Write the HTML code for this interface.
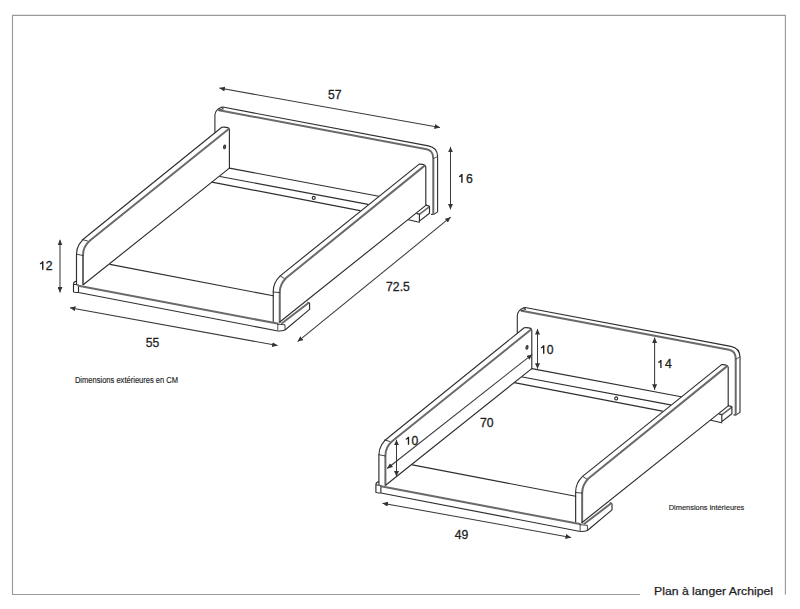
<!DOCTYPE html>
<html><head><meta charset="utf-8">
<style>
html,body{margin:0;padding:0;background:#fff;}
body{width:800px;height:609px;overflow:hidden;position:relative;}
svg{position:absolute;left:0;top:0;}
text{font-family:"Liberation Sans",sans-serif;fill:#1e1e1e;}
</style></head><body>
<svg width="800" height="609" viewBox="0 0 800 609">
<defs>
<marker id="ah" viewBox="0 0 10 10" refX="10" refY="5" markerWidth="5.5" markerHeight="5" preserveAspectRatio="none" orient="auto-start-reverse" markerUnits="userSpaceOnUse">
<path d="M0,0 L10,5 L0,10 z" fill="#333"/>
</marker>
<g id="table" fill="none" stroke="#2e2e2e" stroke-width="1.15" stroke-linejoin="round" stroke-linecap="round">
<!-- back panel -->
<path d="M214.9,132.5 V115 Q215.3,109.5 221.2,107.4 Q222.5,107 224,107.3 L428.4,145.9 Q437.6,147.7 437.6,156.7 V211.9 L433.75,214.4 L431.5,214.4" stroke-width="1.1"/>
<path d="M219,110.2 L426.7,149.2 Q433.3,150.4 433.3,158.4 V214" stroke="#6a6a6a" stroke-width="2"/>
<path d="M433.3,158.6 L437.6,156.5 M221.2,107.5 L223.6,108.8 L219,110.2" stroke-width="0.8"/>
<!-- left rail -->
<path d="M76.5,284 V254.2 Q76.5,243.5 87.5,235.75 L221.8,127.3 Q225.5,126.9 227.7,127.6 Q229.4,128.2 229.4,129.8 V168.1"/>
<path d="M83,284.5 V255.2 Q83,246.5 90,240.5 L228.4,129.2" stroke="#6a6a6a" stroke-width="2"/>
<path d="M76.5,254.2 L83,255.5 M82.25,239.5 L87.5,241" stroke-width="0.9"/>
<!-- floor -->
<path d="M229.4,168.1 L83.5,284.5"/>
<path d="M229.4,168.1 L378.75,196.25"/>
<path d="M220,176.5 L368.1,204.4"/>
<path d="M211.9,182.1 L360,210.6"/>
<path d="M110,264.4 L273.25,295.8"/>
<!-- right rail -->
<path d="M273.25,321.75 V291.25 Q273.25,282.5 280.2,275.84 L419.2,164.1 Q425.8,163.8 425.8,167 V205.1"/>
<path d="M279.75,322.25 V292.5 Q279.75,284.5 286,278 L424.4,165.9" stroke="#6a6a6a" stroke-width="2"/>
<path d="M273.25,292 L279.75,292.6 M280.2,275.84 L284.3,278.5" stroke-width="0.9"/>
<!-- long diagonal floor right + rear foot -->
<path d="M279.75,322 L426.15,205.1"/>
<path d="M419.7,214.1 L429.2,206.8" stroke="#6a6a6a" stroke-width="1.7"/>
<path d="M426.4,205.4 Q429.5,205.6 429.5,207.1 V213.3 L419.4,221.15 V214.1 L416.9,213.6 M408.4,219.75 L419.4,222.3"/>
<!-- base front -->
<path d="M73.5,291.75 V284 Q73.5,281.6 76.5,281.3 M73.5,284.2 L78.5,285 M78.5,285 V292.5 M73.5,291.75 Q74,292.5 78.5,292.5 L278,331 Q282,331.2 285,330  L309.6,309.4 V303.3 Q309.3,302.2 307.7,302.2"/>
<path d="M78.5,285.8 L277.5,323.6" stroke="#6a6a6a" stroke-width="2"/>
<path d="M277.75,324 V330.3" stroke="#777" stroke-width="1.3"/>
<path d="M277.5,324.2 L285,324.8 V329.6" stroke-width="0.9"/>
<path d="M282,323.25 L308.1,303.3" stroke="#6a6a6a" stroke-width="2"/>
<!-- hole -->
<ellipse cx="224.6" cy="146.9" rx="1.05" ry="1.9" fill="#555" stroke="#333" stroke-width="1" transform="rotate(12 224.6 146.9)"/>
<circle cx="313.75" cy="197.9" r="1.5"/>
</g>
</defs>
<!-- frame -->
<g fill="none" stroke="#999" stroke-width="1.1">
<path d="M640,594.5 H12.5 V15.4 H785.4 V594.7"/>
</g>
<use href="#table"/>
<use href="#table" transform="translate(302.4,200.5)"/>
<g fill="none" stroke="#3a3a3a" stroke-width="1.05">
<!-- dimension arrows D1 -->
<path d="M219.4,88.1 L440,127.5" marker-start="url(#ah)" marker-end="url(#ah)"/>
<path d="M450.5,146.9 V209.4" marker-start="url(#ah)" marker-end="url(#ah)"/>
<path d="M60,239.8 V292.6" marker-start="url(#ah)" marker-end="url(#ah)"/>
<path d="M70,307.7 L277.6,345.6" marker-start="url(#ah)" marker-end="url(#ah)"/>
<path d="M297.6,341.6 L450.6,217.2" marker-start="url(#ah)" marker-end="url(#ah)"/>
<!-- D2 arrows -->
<path d="M654.6,337.5 V389.8" marker-start="url(#ah)" marker-end="url(#ah)"/>
<path d="M537.5,329 V368.7" marker-start="url(#ah)" marker-end="url(#ah)"/>
<path d="M396.5,439.8 V476.6" marker-start="url(#ah)" marker-end="url(#ah)"/>
<path d="M387.2,468.5 L532.2,354.4" marker-start="url(#ah)" marker-end="url(#ah)"/>
<path d="M382.5,503.2 L571,537.4" marker-start="url(#ah)" marker-end="url(#ah)"/>
</g>
<g font-size="12.2" stroke="#1e1e1e" stroke-width="0.3">
<text x="328" y="98.7">57</text>
<text x="145.8" y="346.75">55</text>
<text x="386.1" y="290.9">72.5</text>
<text x="480" y="426.75">70</text>
<text x="454.7" y="539">49</text>
<text x="466.1" y="182.66">6</text>
<text x="45.8" y="269.8">2</text>
<text x="546.8" y="353.75">0</text>
<text x="664.9" y="368">4</text>
<text x="411.5" y="444.8">0</text>
</g>
<g fill="#1e1e1e" stroke="none">
<path transform="translate(459.06,174.06) scale(1.000)" d="M2.15,0 H3.55 V8.6 H2.15 V2.35 Q1.3,3.05 0,3.25 V2.0 Q1.6,1.7 2.15,0 Z"/>
<path transform="translate(39.90,261.20) scale(1.000)" d="M2.15,0 H3.55 V8.6 H2.15 V2.35 Q1.3,3.05 0,3.25 V2.0 Q1.6,1.7 2.15,0 Z"/>
<path transform="translate(540.90,345.30) scale(0.983)" d="M2.15,0 H3.55 V8.6 H2.15 V2.35 Q1.3,3.05 0,3.25 V2.0 Q1.6,1.7 2.15,0 Z"/>
<path transform="translate(658.25,360.00) scale(0.930)" d="M2.15,0 H3.55 V8.6 H2.15 V2.35 Q1.3,3.05 0,3.25 V2.0 Q1.6,1.7 2.15,0 Z"/>
<path transform="translate(405.80,436.70) scale(0.942)" d="M2.15,0 H3.55 V8.6 H2.15 V2.35 Q1.3,3.05 0,3.25 V2.0 Q1.6,1.7 2.15,0 Z"/>
</g>
<text x="74.9" y="382.75" font-size="8.3" stroke="#1e1e1e" stroke-width="0.15" textLength="103.2" lengthAdjust="spacingAndGlyphs">Dimensions extérieures en CM</text>
<text x="668.75" y="509.75" font-size="7.8" stroke="#1e1e1e" stroke-width="0.15" textLength="75.6" lengthAdjust="spacingAndGlyphs">Dimensions intérieures</text>
<text x="654" y="594.7" font-size="11.3" stroke="#1e1e1e" stroke-width="0.25" textLength="119" lengthAdjust="spacingAndGlyphs">Plan à langer Archipel</text>
</svg>
</body></html>
